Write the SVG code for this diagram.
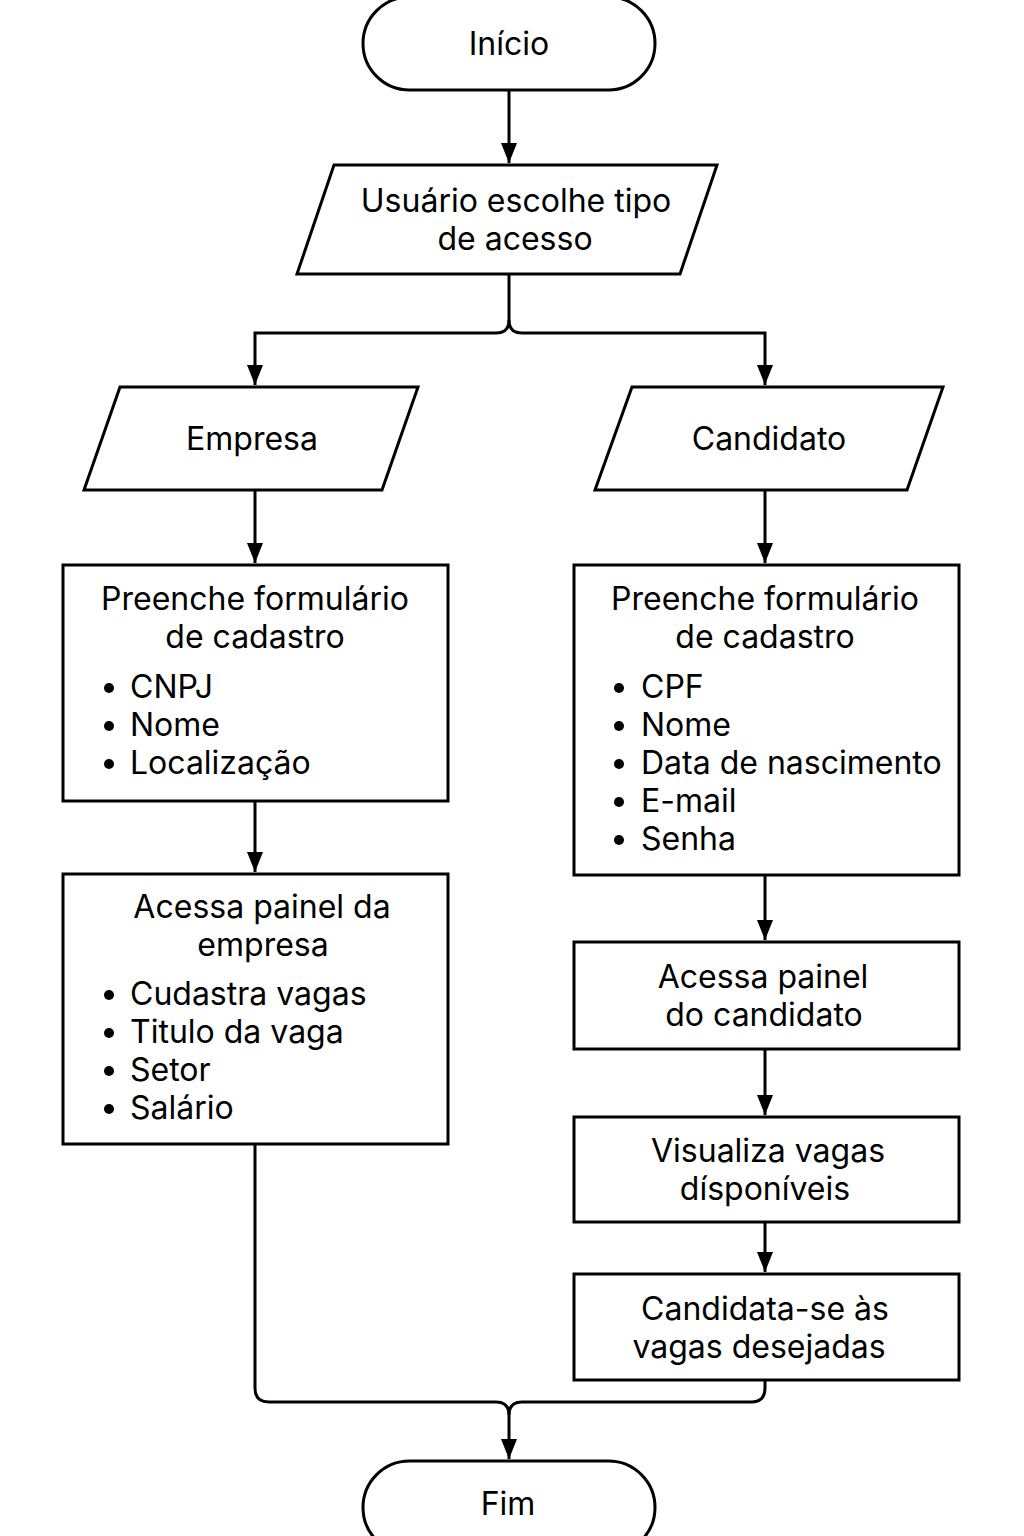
<svg xmlns="http://www.w3.org/2000/svg" width="1024" height="1536" viewBox="0 0 1024 1536">
<style>
.s{fill:#fff;stroke:#000;stroke-width:3;stroke-linejoin:miter}
.c{fill:none;stroke:#000;stroke-width:3}
text{font-family:Inter,"Noto Sans","Liberation Sans",sans-serif;font-size:32px;fill:#000}
.m{text-anchor:middle}
.d{fill:#000}
</style>
<defs>
<marker id="b" markerUnits="userSpaceOnUse" markerWidth="20" markerHeight="16" viewBox="0 0 20 16" refX="20" refY="8" orient="auto">
<path d="M0,0 L20,8 L0,16 Z" fill="#000"/>
</marker>
</defs>
<rect width="1024" height="1536" fill="#fff"/>
<g id="connectors">
<path class="c" d="M509,90 V163" marker-end="url(#b)"/>
<path class="c" d="M509,274 V320 Q509,333 496,333 H255 V385" marker-end="url(#b)"/>
<path class="c" d="M509,320 Q509,333 522,333 H765 V385" marker-end="url(#b)"/>
<path class="c" d="M255,490 V563" marker-end="url(#b)"/>
<path class="c" d="M765,490 V563" marker-end="url(#b)"/>
<path class="c" d="M255,801 V872" marker-end="url(#b)"/>
<path class="c" d="M765,875 V940" marker-end="url(#b)"/>
<path class="c" d="M765,1049 V1115" marker-end="url(#b)"/>
<path class="c" d="M765,1222 V1272" marker-end="url(#b)"/>
<path class="c" d="M255,1144 V1388 Q255,1402 269,1402 H496 Q509,1402 509,1415 V1459" marker-end="url(#b)"/>
<path class="c" d="M765,1380 V1388 Q765,1402 751,1402 H522 Q509,1402 509,1415"/>
</g>
<g id="inicio">
<rect class="s" x="363" y="-3" width="292" height="93" rx="46.5" ry="46.5"/>
<text class="m" x="509" y="55">Início</text>
</g>
<g id="escolhe">
<polygon class="s" points="334,165 717,165 680,274 297,274"/>
<text class="m" x="516" y="212">Usuário escolhe tipo</text>
<text class="m" x="515" y="250">de acesso</text>
</g>
<g id="empresa">
<polygon class="s" points="120,387 418,387 382,490 84,490"/>
<text class="m" x="252" y="450">Empresa</text>
</g>
<g id="candidato">
<polygon class="s" points="632,387 943,387 907,490 595,490"/>
<text class="m" x="769" y="450">Candidato</text>
</g>
<g id="form-empresa">
<rect class="s" x="63" y="565" width="385" height="236"/>
<text class="m" x="255" y="610">Preenche formulário</text>
<text class="m" x="255" y="648">de cadastro</text>
<circle class="d" cx="109" cy="688" r="5"/><text x="130" y="698">CNPJ</text>
<circle class="d" cx="109" cy="726" r="5"/><text x="130" y="736">Nome</text>
<circle class="d" cx="109" cy="764" r="5"/><text x="130" y="774">Localização</text>
</g>
<g id="painel-empresa">
<rect class="s" x="63" y="874" width="385" height="270"/>
<text class="m" x="262" y="918">Acessa painel da</text>
<text class="m" x="263" y="956">empresa</text>
<circle class="d" cx="109" cy="995" r="5"/><text x="130" y="1005">Cudastra vagas</text>
<circle class="d" cx="109" cy="1033" r="5"/><text x="130" y="1043">Titulo da vaga</text>
<circle class="d" cx="109" cy="1071" r="5"/><text x="130" y="1081">Setor</text>
<circle class="d" cx="109" cy="1109" r="5"/><text x="130" y="1119">Salário</text>
</g>
<g id="form-candidato">
<rect class="s" x="574" y="565" width="385" height="310"/>
<text class="m" x="765" y="610">Preenche formulário</text>
<text class="m" x="765" y="648">de cadastro</text>
<circle class="d" cx="619" cy="688" r="5"/><text x="641" y="698">CPF</text>
<circle class="d" cx="619" cy="726" r="5"/><text x="641" y="736">Nome</text>
<circle class="d" cx="619" cy="764" r="5"/><text x="641" y="774">Data de nascimento</text>
<circle class="d" cx="619" cy="802" r="5"/><text x="641" y="812">E-mail</text>
<circle class="d" cx="619" cy="840" r="5"/><text x="641" y="850">Senha</text>
</g>
<g id="painel-candidato">
<rect class="s" x="574" y="942" width="385" height="107"/>
<text class="m" x="763" y="988">Acessa painel</text>
<text class="m" x="764" y="1026">do candidato</text>
</g>
<g id="visualiza">
<rect class="s" x="574" y="1117" width="385" height="105"/>
<text class="m" x="768" y="1162">Visualiza vagas</text>
<text class="m" x="765" y="1200">dísponíveis</text>
</g>
<g id="candidata">
<rect class="s" x="574" y="1274" width="385" height="106"/>
<text class="m" x="765" y="1320">Candidata-se às</text>
<text class="m" x="759" y="1358">vagas desejadas</text>
</g>
<g id="fim">
<rect class="s" x="363" y="1461" width="292" height="93" rx="46.5" ry="46.5"/>
<text class="m" x="508" y="1515">Fim</text>
</g>
</svg>
